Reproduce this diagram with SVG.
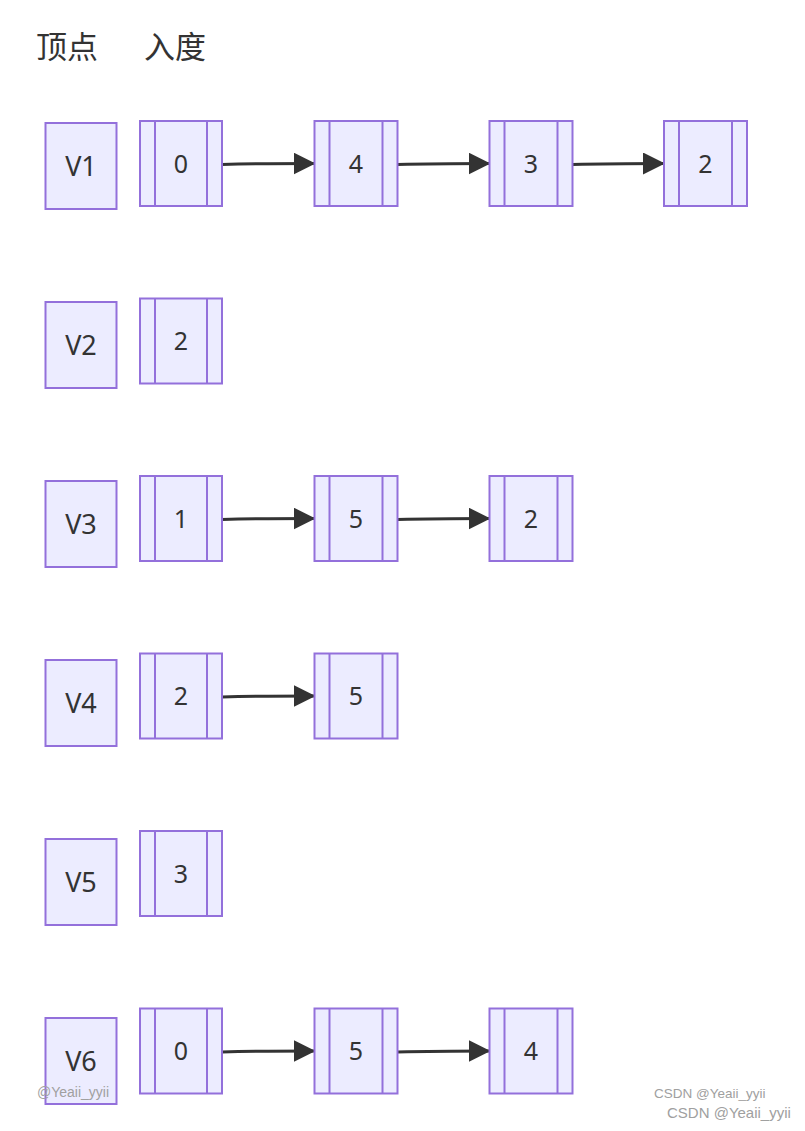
<svg xmlns="http://www.w3.org/2000/svg" width="805" height="1131" viewBox="0 0 805 1131">
<defs>
<marker id="arr" viewBox="0 0 22 22" refX="21" refY="11" markerWidth="22" markerHeight="22" markerUnits="userSpaceOnUse" orient="auto">
<path d="M0,0 L22,11 L0,22 Z" fill="#333"/>
</marker>
</defs>
<style>
.box{fill:#ECECFF;stroke:#9370DB;stroke-width:2}
.sep{stroke:#9370DB;stroke-width:2}
.v{font-family:"Noto Sans","DejaVu Sans",sans-serif;font-size:27px;fill:#333;text-anchor:middle}
.d{font-family:"Noto Sans","DejaVu Sans",sans-serif;font-size:25px;fill:#333;text-anchor:middle}
.hd{font-family:"Noto Sans CJK SC",sans-serif;font-size:31px;fill:#333}
.e{stroke:#333;stroke-width:3;fill:none;marker-end:url(#arr)}
.wm{font-family:"Liberation Sans",Arial,sans-serif;fill:#a0a0a0}
</style>
<rect width="805" height="1131" fill="#fff"/>
<g id="header">
<text class="hd" x="36" y="58">顶点</text>
<text class="hd" x="144" y="58">入度</text>
</g>
<g id="connectors">
<path class="e" d="M222,164.5 C260,163.5 280,163.5 314.5,163.5"/>
<path class="e" d="M397.5,164.5 C435,163.5 455,163.5 489.5,163.5"/>
<path class="e" d="M572.5,164.5 C610,163.5 630,163.5 664,163.5"/>
<path class="e" d="M222,519.5 C260,518.5 280,518.5 314.5,518.5"/>
<path class="e" d="M397.5,519.5 C435,518.5 455,518.5 489.5,518.5"/>
<path class="e" d="M222,697 C260,696 280,696 314.5,696"/>
<path class="e" d="M222,1052 C260,1051 280,1051 314.5,1051"/>
<path class="e" d="M397.5,1052 C435,1051 455,1051 489.5,1051"/>
</g>
<g id="V1"><rect class="box" x="45.5" y="123" width="71" height="86"/><text class="v" x="81" y="175.5">V1</text></g>
<g id="V2"><rect class="box" x="45.5" y="302" width="71" height="86"/><text class="v" x="81" y="354.5">V2</text></g>
<g id="V3"><rect class="box" x="45.5" y="481" width="71" height="86"/><text class="v" x="81" y="533.5">V3</text></g>
<g id="V4"><rect class="box" x="45.5" y="660" width="71" height="86"/><text class="v" x="81" y="712.5">V4</text></g>
<g id="V5"><rect class="box" x="45.5" y="839" width="71" height="86"/><text class="v" x="81" y="891.5">V5</text></g>
<g id="V6"><rect class="box" x="45.5" y="1018" width="71" height="86"/><text class="v" x="81" y="1070.5">V6</text></g>

<g id="r1a"><rect class="box" x="140" y="121" width="82" height="85"/><line class="sep" x1="155" y1="121" x2="155" y2="206"/><line class="sep" x1="207" y1="121" x2="207" y2="206"/><text class="d" x="181" y="172.5">0</text></g>
<g id="r1b"><rect class="box" x="314.5" y="121" width="83" height="85"/><line class="sep" x1="329.5" y1="121" x2="329.5" y2="206"/><line class="sep" x1="382.5" y1="121" x2="382.5" y2="206"/><text class="d" x="356" y="172.5">4</text></g>
<g id="r1c"><rect class="box" x="489.5" y="121" width="83" height="85"/><line class="sep" x1="504.5" y1="121" x2="504.5" y2="206"/><line class="sep" x1="557.5" y1="121" x2="557.5" y2="206"/><text class="d" x="531" y="172.5">3</text></g>
<g id="r1d"><rect class="box" x="664" y="121" width="83" height="85"/><line class="sep" x1="679" y1="121" x2="679" y2="206"/><line class="sep" x1="732" y1="121" x2="732" y2="206"/><text class="d" x="705.5" y="172.5">2</text></g>

<g id="r2a"><rect class="box" x="140" y="298.5" width="82" height="85"/><line class="sep" x1="155" y1="298.5" x2="155" y2="383.5"/><line class="sep" x1="207" y1="298.5" x2="207" y2="383.5"/><text class="d" x="181" y="350">2</text></g>

<g id="r3a"><rect class="box" x="140" y="476" width="82" height="85"/><line class="sep" x1="155" y1="476" x2="155" y2="561"/><line class="sep" x1="207" y1="476" x2="207" y2="561"/><text class="d" x="181" y="527.5">1</text></g>
<g id="r3b"><rect class="box" x="314.5" y="476" width="83" height="85"/><line class="sep" x1="329.5" y1="476" x2="329.5" y2="561"/><line class="sep" x1="382.5" y1="476" x2="382.5" y2="561"/><text class="d" x="356" y="527.5">5</text></g>
<g id="r3c"><rect class="box" x="489.5" y="476" width="83" height="85"/><line class="sep" x1="504.5" y1="476" x2="504.5" y2="561"/><line class="sep" x1="557.5" y1="476" x2="557.5" y2="561"/><text class="d" x="531" y="527.5">2</text></g>

<g id="r4a"><rect class="box" x="140" y="653.5" width="82" height="85"/><line class="sep" x1="155" y1="653.5" x2="155" y2="738.5"/><line class="sep" x1="207" y1="653.5" x2="207" y2="738.5"/><text class="d" x="181" y="705">2</text></g>
<g id="r4b"><rect class="box" x="314.5" y="653.5" width="83" height="85"/><line class="sep" x1="329.5" y1="653.5" x2="329.5" y2="738.5"/><line class="sep" x1="382.5" y1="653.5" x2="382.5" y2="738.5"/><text class="d" x="356" y="705">5</text></g>

<g id="r5a"><rect class="box" x="140" y="831" width="82" height="85"/><line class="sep" x1="155" y1="831" x2="155" y2="916"/><line class="sep" x1="207" y1="831" x2="207" y2="916"/><text class="d" x="181" y="882.5">3</text></g>

<g id="r6a"><rect class="box" x="140" y="1008.5" width="82" height="85"/><line class="sep" x1="155" y1="1008.5" x2="155" y2="1093.5"/><line class="sep" x1="207" y1="1008.5" x2="207" y2="1093.5"/><text class="d" x="181" y="1060">0</text></g>
<g id="r6b"><rect class="box" x="314.5" y="1008.5" width="83" height="85"/><line class="sep" x1="329.5" y1="1008.5" x2="329.5" y2="1093.5"/><line class="sep" x1="382.5" y1="1008.5" x2="382.5" y2="1093.5"/><text class="d" x="356" y="1060">5</text></g>
<g id="r6c"><rect class="box" x="489.5" y="1008.5" width="83" height="85"/><line class="sep" x1="504.5" y1="1008.5" x2="504.5" y2="1093.5"/><line class="sep" x1="557.5" y1="1008.5" x2="557.5" y2="1093.5"/><text class="d" x="531" y="1060">4</text></g>

<g id="watermarks">
<text class="wm" x="37" y="1097" font-size="14">@Yeaii_yyii</text>
<text class="wm" x="654" y="1098" font-size="13.5">CSDN @Yeaii_yyii</text>
<text class="wm" x="667" y="1118" font-size="15">CSDN @Yeaii_yyii</text>
</g>
</svg>
